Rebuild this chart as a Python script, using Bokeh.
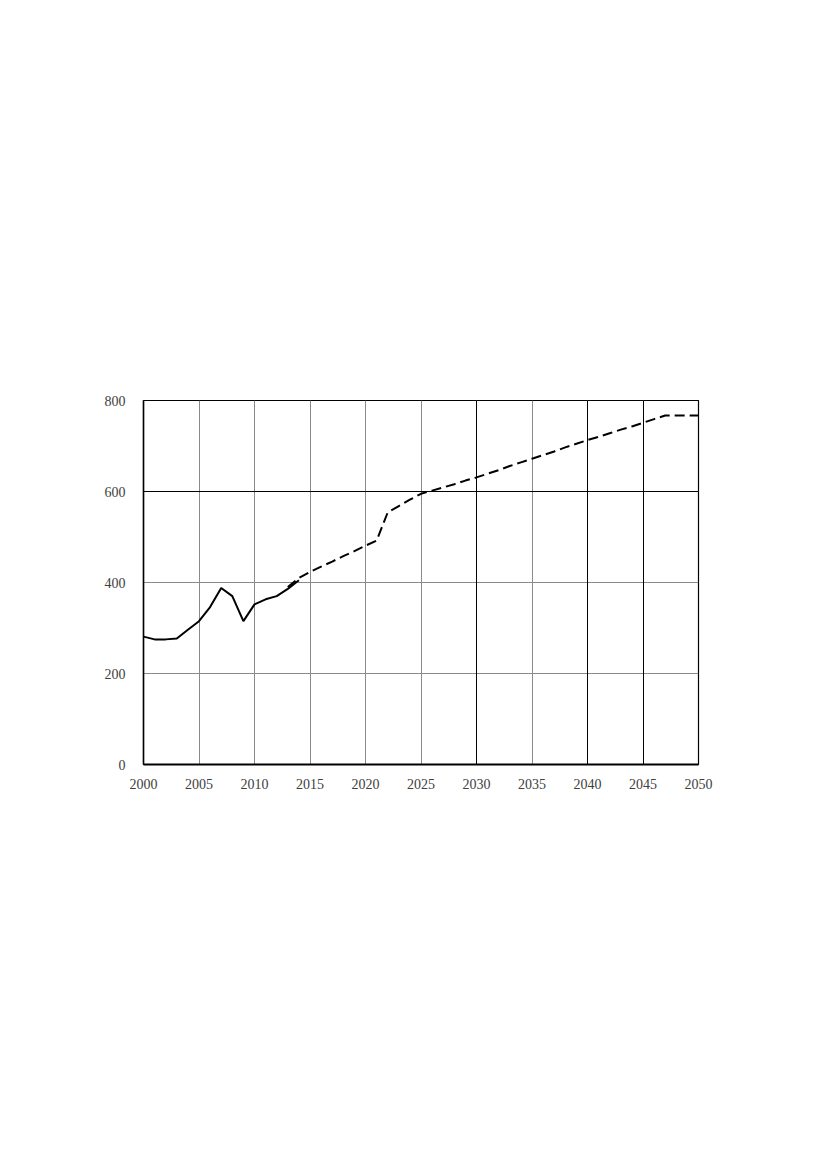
from bokeh.plotting import figure
from bokeh.models import Range1d, FixedTicker, Grid
from bokeh.embed import file_html
from bokeh.resources import INLINE

hist_years = list(range(2000, 2015))
hist_vals = [281, 275, 275, 277, 296, 315, 346, 388, 370, 315, 352, 363, 370, 386, 405]

proj_years = list(range(2013, 2051))
proj_vals = [390, 410, 423, 435, 446, 458, 469, 481, 492, 554, 568, 582, 595,
             602, 609, 616, 624, 631, 639, 647, 656, 664, 672, 680, 688, 697,
             705, 713, 720, 728, 736, 743, 751, 759, 767, 767, 767, 767]

x_ticks = list(range(2000, 2051, 5))
y_ticks = [0, 200, 400, 600, 800]
dark_x_ticks = [2030, 2040, 2045]
dark_y_ticks = [600]

p = figure(frame_width=555, frame_height=364, output_backend="svg", toolbar_location=None,
           x_range=Range1d(2000, 2050), y_range=Range1d(0, 800),
           min_border_left=143, min_border_top=400, min_border_right=40, min_border_bottom=50)
p.background_fill_color = "white"
p.border_fill_color = "white"
p.outline_line_color = "black"
p.outline_line_width = 1.2

p.xaxis.ticker = FixedTicker(ticks=x_ticks)
p.yaxis.ticker = FixedTicker(ticks=y_ticks)
for ax in (p.xaxis[0], p.yaxis[0]):
    ax.major_tick_line_color = None
    ax.minor_tick_line_color = None
    ax.major_label_text_font = "Liberation Serif"
    ax.major_label_text_font_size = "14px"
    ax.major_label_text_color = "#404040"
p.yaxis.axis_line_color = "black"
p.yaxis.axis_line_width = 1.5
p.xaxis.axis_line_color = "black"
p.xaxis.axis_line_width = 2
p.yaxis.major_label_standoff = 12
p.xaxis.major_label_standoff = 8

p.xgrid.grid_line_color = "#8a8a8a"
p.ygrid.grid_line_color = "#8a8a8a"
p.xgrid.grid_line_width = 1
p.ygrid.grid_line_width = 1

gx = Grid(dimension=0, ticker=FixedTicker(ticks=dark_x_ticks), grid_line_color="black", grid_line_width=1)
gy = Grid(dimension=1, ticker=FixedTicker(ticks=dark_y_ticks), grid_line_color="black", grid_line_width=1)
p.add_layout(gx)
p.add_layout(gy)

p.line(hist_years, hist_vals, line_color="black", line_width=2)
p.line(proj_years, proj_vals, line_color="black", line_width=2, line_dash="10 5")

open("out.html", "w").write(file_html(p, INLINE))
